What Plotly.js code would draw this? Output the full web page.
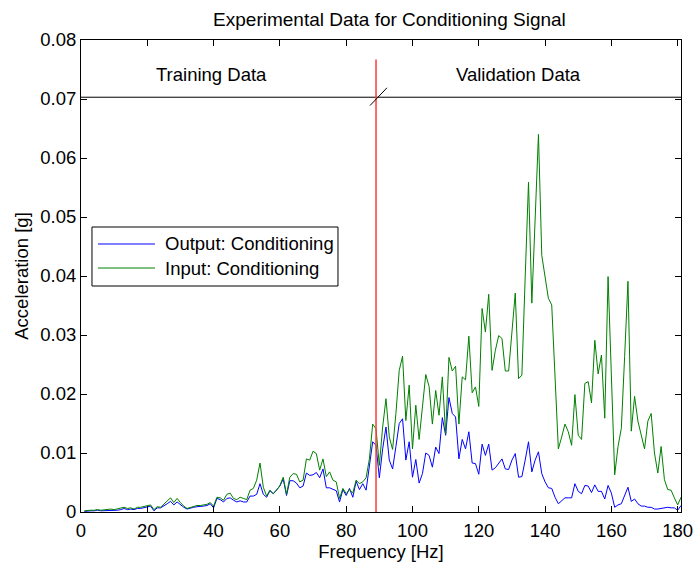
<!DOCTYPE html>
<html>
<head>
<meta charset="utf-8">
<script src="https://cdn.plot.ly/plotly-3.0.1.min.js"></script>
<style>html,body{margin:0;padding:0;background:#fff;}#chart{width:693px;height:563px;}</style>
</head>
<body>
<div id="chart"></div>
<script>
// Frequency [Hz]
var freq = [1,2,3,4,5,6,7,8,9,10,11,12,13,14,15,16,17,18,19,20,
21,22,23,24,25,26,27,28,29,30,31,32,33,34,35,36,37,38,39,40,
41,42,43,44,45,46,47,48,49,50,51,52,53,54,55,56,57,58,59,60,
61,62,63,64,65,66,67,68,69,70,71,72,73,74,75,76,77,78,79,80,
81,82,83,84,85,86,87,88,89,90,91,92,93,94,95,96,97,98,99,100,
101,102,103,104,105,106,107,108,109,110,111,112,113,114,115,116,117,118,119,120,
121,122,123,124,125,126,127,128,129,130,131,132,133,134,135,136,137,138,139,140,
141,142,143,144,145,146,147,148,149,150,151,152,153,154,155,156,157,158,159,160,
161,162,163,164,165,166,167,168,169,170,171,172,173,174,175,176,177,178,179,180,181];

// Output: Conditioning (blue)
var outputAcc = [0.0001,0.0002,0.0002,0.0002,0.0003,0.0002,0.0002,0.0003,0.0003,0.0002,
0.0003,0.0004,0.0006,0.0004,0.0005,0.0004,0.0006,0.0006,0.0007,0.0008,
0.0010,0.0002,0.0007,0.0007,0.0010,0.0014,0.0018,0.0012,0.0017,0.0012,
0.0008,0.0005,0.0007,0.0008,0.0009,0.0009,0.0010,0.0011,0.0014,0.0007,
0.0023,0.0021,0.0017,0.0023,0.0024,0.0020,0.0017,0.0019,0.0017,0.0017,
0.0027,0.0027,0.0030,0.0048,0.0030,0.0025,0.0036,0.0031,0.0037,0.0044,
0.0056,0.0028,0.0053,0.0053,0.0049,0.0041,0.0044,0.0066,0.0062,0.0063,
0.0067,0.0058,0.0073,0.0041,0.0041,0.0038,0.0036,0.0017,0.0038,0.0028,
0.0040,0.0025,0.0052,0.0038,0.0048,0.0037,0.0082,0.0119,0.0113,0.0058,
0.0107,0.0144,0.0088,0.0073,0.0111,0.0150,0.0158,0.0088,0.0119,0.0059,
0.0089,0.0049,0.0065,0.0100,0.0096,0.0076,0.0110,0.0099,0.0160,0.0130,
0.0194,0.0167,0.0161,0.0090,0.0123,0.0107,0.0136,0.0083,0.0082,0.0064,
0.0115,0.0096,0.0115,0.0071,0.0075,0.0082,0.0090,0.0073,0.0072,0.0088,
0.0099,0.0059,0.0060,0.0088,0.0119,0.0068,0.0088,0.0102,0.0065,0.0051,
0.0041,0.0040,0.0025,0.0014,0.0019,0.0024,0.0024,0.0024,0.0048,0.0035,
0.0031,0.0045,0.0044,0.0033,0.0046,0.0035,0.0035,0.0022,0.0045,0.0032,
0.0008,0.0012,0.0014,0.0027,0.0042,0.0018,0.0022,0.0014,0.0010,0.0010,
0.0008,0.0008,0.0005,0.0005,0.0006,0.0007,0.0008,0.0007,0.0007,0.0003,0.0011];

// Input: Conditioning (green)
var inputAcc = [0.0002,0.0003,0.0003,0.0003,0.0004,0.0003,0.0004,0.0004,0.0005,0.0004,
0.0005,0.0006,0.0008,0.0006,0.0007,0.0005,0.0008,0.0008,0.0009,0.0010,
0.0012,0.0004,0.0009,0.0008,0.0013,0.0018,0.0024,0.0016,0.0023,0.0016,
0.0010,0.0006,0.0008,0.0009,0.0011,0.0011,0.0012,0.0013,0.0016,0.0010,
0.0025,0.0024,0.0020,0.0030,0.0032,0.0023,0.0021,0.0025,0.0023,0.0021,
0.0037,0.0040,0.0054,0.0083,0.0042,0.0027,0.0037,0.0031,0.0037,0.0045,
0.0059,0.0030,0.0059,0.0065,0.0064,0.0051,0.0054,0.0090,0.0088,0.0103,
0.0099,0.0071,0.0090,0.0060,0.0068,0.0054,0.0051,0.0023,0.0040,0.0031,
0.0038,0.0032,0.0054,0.0048,0.0051,0.0058,0.0090,0.0149,0.0141,0.0079,
0.0144,0.0192,0.0127,0.0106,0.0167,0.0240,0.0264,0.0155,0.0215,0.0107,
0.0181,0.0123,0.0178,0.0233,0.0213,0.0149,0.0206,0.0164,0.0229,0.0132,
0.0262,0.0239,0.0247,0.0149,0.0229,0.0224,0.0298,0.0202,0.0212,0.0179,
0.0345,0.0305,0.0369,0.0240,0.0274,0.0299,0.0294,0.0239,0.0239,0.0302,
0.0371,0.0226,0.0232,0.0398,0.0559,0.0354,0.0494,0.0640,0.0435,0.0398,
0.0362,0.0351,0.0229,0.0107,0.0127,0.0149,0.0136,0.0113,0.0199,0.0130,
0.0123,0.0218,0.0221,0.0185,0.0291,0.0234,0.0266,0.0159,0.0399,0.0240,
0.0063,0.0111,0.0142,0.0264,0.0391,0.0137,0.0196,0.0154,0.0131,0.0107,
0.0154,0.0167,0.0100,0.0066,0.0111,0.0055,0.0038,0.0037,0.0024,0.0012,0.0025];

var xTicks = [0,20,40,60,80,100,120,140,160,180];
var yTicks = [0,0.01,0.02,0.03,0.04,0.05,0.06,0.07,0.08];
var yTickText = ["0","0.01","0.02","0.03","0.04","0.05","0.06","0.07","0.08"];
var seriesNames = ["Output: Conditioning","Input: Conditioning"];
var regionLabels = ["Training Data","Validation Data"];
var splitFreq = 89;        // training/validation split
var splitTop = 0.0767;
var bandLevel = 0.0703;    // header separator line
var xMax = 181;

var FONT = "Liberation Sans, Arial, Helvetica, sans-serif";
var fs = 18.5;

var traces = [
  {x: freq, y: outputAcc, type: 'scatter', mode: 'lines', name: seriesNames[0],
   line: {color: '#0000ff', width: 1}, hoverinfo: 'skip'},
  {x: freq, y: inputAcc, type: 'scatter', mode: 'lines', name: seriesNames[1],
   line: {color: '#008000', width: 1}, hoverinfo: 'skip'}
];

var shapes = [
  {type: 'line', xref: 'x', yref: 'y', x0: 0, x1: xMax, y0: bandLevel, y1: bandLevel,
   line: {color: '#000', width: 1}, layer: 'above'},
  {type: 'line', xref: 'x', yref: 'y', x0: splitFreq, x1: splitFreq, y0: 0, y1: splitTop,
   line: {color: '#ff3b3b', width: 1.5}, layer: 'above'},
  {type: 'line', xref: 'x', yref: 'y', x0: splitFreq - 1.8, x1: splitFreq + 3.3, y0: bandLevel - 0.0014, y1: bandLevel + 0.0016,
   line: {color: '#000', width: 1}, layer: 'above'},
  // legend box
  {type: 'rect', xref: 'paper', yref: 'paper', x0: 0.0183, x1: 0.4283, y0: 0.4788, y1: 0.6038,
   fillcolor: '#fff', line: {color: '#000', width: 1}, layer: 'above'},
  {type: 'line', xref: 'paper', yref: 'paper', x0: 0.0283, x1: 0.1233, y0: 0.5678, y1: 0.5678,
   line: {color: '#0000ff', width: 1}, layer: 'above'},
  {type: 'line', xref: 'paper', yref: 'paper', x0: 0.0283, x1: 0.1233, y0: 0.5169, y1: 0.5169,
   line: {color: '#008000', width: 1}, layer: 'above'}
];

var annotations = [
  {xref: 'x', yref: 'y', x: 39.3, y: 0.0742, text: regionLabels[0], showarrow: false,
   font: {family: FONT, size: fs, color: '#000'}},
  {xref: 'x', yref: 'y', x: 132, y: 0.0742, text: regionLabels[1], showarrow: false,
   font: {family: FONT, size: fs, color: '#000'}},
  {xref: 'paper', yref: 'paper', x: 0.1367, y: 0.5678, xanchor: 'left', yanchor: 'middle',
   text: seriesNames[0], showarrow: false, font: {family: FONT, size: fs, color: '#000'}},
  {xref: 'paper', yref: 'paper', x: 0.1367, y: 0.5169, xanchor: 'left', yanchor: 'middle',
   text: seriesNames[1], showarrow: false, font: {family: FONT, size: fs, color: '#000'}}
];

var layout = {
  width: 693, height: 563,
  margin: {l: 81, r: 12, t: 40, b: 51, pad: 0},
  paper_bgcolor: '#fff', plot_bgcolor: '#fff',
  showlegend: false,
  font: {family: FONT, size: fs, color: '#000'},
  title: {text: 'Experimental Data for Conditioning Signal', x: 0.562, xref: 'container', xanchor: 'center',
          y: 0.966, yref: 'container', yanchor: 'middle', font: {family: FONT, size: 19, color: '#000'}},
  xaxis: {range: [0, xMax], tickvals: xTicks, ticktext: xTicks.map(String), ticks: 'inside', ticklen: 6,
          tickcolor: '#000', showline: true, linecolor: '#000', linewidth: 1, mirror: 'allticks',
          showgrid: false, zeroline: false, tickfont: {family: FONT, size: fs, color: '#000'},
          ticklabelstandoff: 2, ticklabeloverflow: 'allow',
          title: {text: 'Frequency [Hz]', font: {family: FONT, size: fs, color: '#000'}, standoff: 3}},
  yaxis: {range: [0, 0.08], tickvals: yTicks, ticktext: yTickText, ticks: 'inside', ticklen: 6,
          tickcolor: '#000', showline: true, linecolor: '#000', linewidth: 1, mirror: 'allticks',
          showgrid: false, zeroline: false, tickfont: {family: FONT, size: fs, color: '#000'},
          ticklabeloverflow: 'allow',
          title: {text: 'Acceleration [g]', font: {family: FONT, size: fs, color: '#000'}, standoff: 6}},
  shapes: shapes,
  annotations: annotations
};

Plotly.newPlot('chart', traces, layout, {staticPlot: true, displayModeBar: false});
</script>
</body>
</html>
